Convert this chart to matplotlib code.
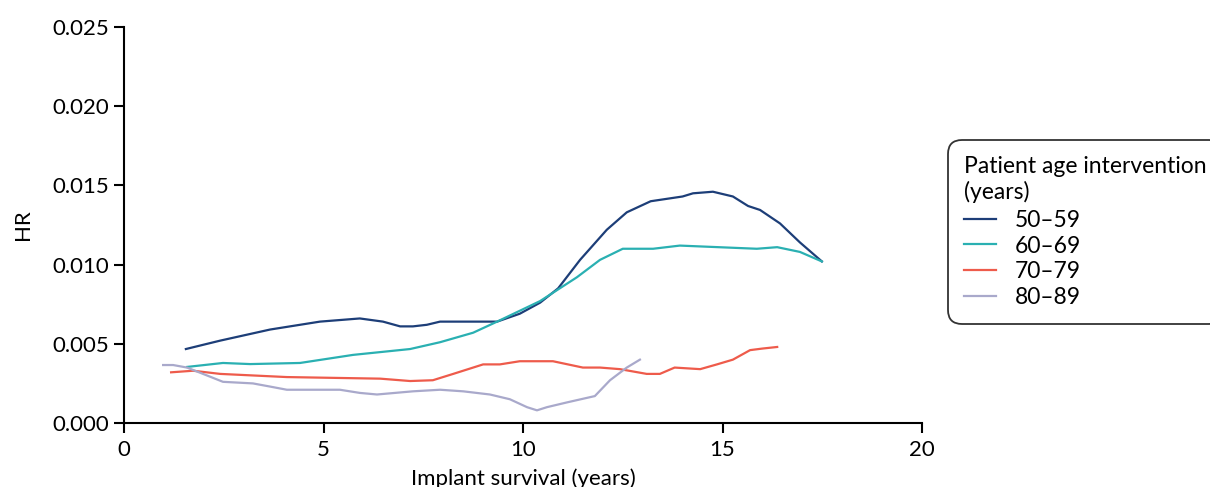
import matplotlib.pyplot as plt

plt.rcParams['font.family'] = ['Lato', 'DejaVu Sans']

# values
x_5059 = [1.55, 2.41, 3.66, 4.91, 5.91, 6.49, 6.92, 7.24, 7.59, 7.92, 8.25, 9.35, 9.92, 10.43,
          10.88, 11.43, 12.1, 12.6, 13.2, 14.0, 14.26, 14.76, 15.26, 15.64, 15.94, 16.44, 16.94, 17.49]
y_5059 = [0.00467, 0.0052, 0.0059, 0.0064, 0.0066, 0.0064, 0.0061, 0.0061, 0.0062, 0.0064, 0.0064,
          0.0064, 0.0069, 0.0076, 0.0085, 0.0103, 0.0122, 0.0133, 0.0140, 0.0143, 0.0145, 0.0146,
          0.0143, 0.0137, 0.01345, 0.0126, 0.0114, 0.0102]

x_6069 = [1.58, 2.48, 3.16, 4.41, 5.74, 7.17, 7.92, 8.75, 9.35, 10.43, 11.35, 11.93, 12.5,
          13.26, 13.93, 15.86, 16.37, 16.94, 17.49]
y_6069 = [0.00354, 0.00379, 0.00372, 0.00379, 0.0043, 0.00467, 0.0051, 0.0057, 0.0064, 0.0077,
          0.0092, 0.0103, 0.0110, 0.0110, 0.0112, 0.0110, 0.0111, 0.0108, 0.0102]

x_7079 = [1.18, 1.73, 2.41, 4.08, 6.42, 7.17, 7.74, 8.25, 9.0, 9.42, 9.92, 10.75, 11.5, 11.93,
          12.43, 13.1, 13.43, 13.8, 14.44, 14.86, 15.26, 15.69, 16.0, 16.37]
y_7079 = [0.0032, 0.0033, 0.0031, 0.0029, 0.0028, 0.00265, 0.0027, 0.0031, 0.0037, 0.0037,
          0.0039, 0.0039, 0.0035, 0.0035, 0.0034, 0.0031, 0.0031, 0.0035, 0.0034, 0.0037,
          0.0040, 0.0046, 0.0047, 0.0048]

x_8089 = [0.98, 1.23, 1.58, 1.98, 2.48, 3.23, 3.66, 4.08, 5.41, 5.91, 6.34, 7.24, 7.92, 8.5,
          9.17, 9.67, 10.1, 10.35, 10.6, 11.1, 11.8, 12.18, 12.6, 12.93]
y_8089 = [0.00366, 0.00366, 0.0035, 0.0031, 0.0026, 0.0025, 0.0023, 0.0021, 0.0021, 0.0019,
          0.0018, 0.0020, 0.0021, 0.0020, 0.0018, 0.0015, 0.0010, 0.0008, 0.0010, 0.0013,
          0.0017, 0.0027, 0.0035, 0.0040]

labels = ['50\u201359', '60\u201369', '70\u201379', '80\u201389']
colors = ['#1d3e78', '#2ab0b2', '#ee5b4b', '#a9a9cb']

fig = plt.figure(figsize=(12.1, 4.87), dpi=100)
ax = fig.add_axes([0.1025, 0.1314, 0.6595, 0.8132])

series = [(x_5059, y_5059), (x_6069, y_6069), (x_7079, y_7079), (x_8089, y_8089)]
for (xs, ys), lab, c in zip(series, labels, colors):
    ax.plot(xs, ys, color=c, lw=1.6, label=lab)

ax.set_xlim(0, 20)
ax.set_ylim(0, 0.025)
ax.set_xticks([0, 5, 10, 15, 20])
ax.set_yticks([0, 0.005, 0.010, 0.015, 0.020, 0.025])
ax.set_yticklabels(['0.000', '0.005', '0.010', '0.015', '0.020', '0.025'])
ax.spines['top'].set_visible(False)
ax.spines['right'].set_visible(False)
for s in ['left', 'bottom']:
    ax.spines[s].set_linewidth(1.5)
ax.tick_params(labelsize=16, length=7, width=1.5)
ax.tick_params(axis='x', pad=5)
ax.set_xlabel('Implant survival (years)', fontsize=16, labelpad=6)
ax.set_ylabel('HR', fontsize=16, labelpad=14)

leg = ax.legend(title='Patient age intervention\n(years)', loc='upper left',
                bbox_to_anchor=(948 / 1210, 1 - 140 / 487), bbox_transform=fig.transFigure,
                borderaxespad=0, fontsize=16.5, title_fontsize=16.5, frameon=True, fancybox=True,
                handlelength=1.4, handletextpad=0.8, labelspacing=0.21, borderpad=0.7,
                alignment='left')
leg.get_frame().set_edgecolor('black')
leg.get_frame().set_linewidth(1.3)
leg.get_frame().set_boxstyle('round', pad=0.0, rounding_size=0.6)
leg._legend_box.sep = 5

fig.savefig('out.png', dpi=100)
